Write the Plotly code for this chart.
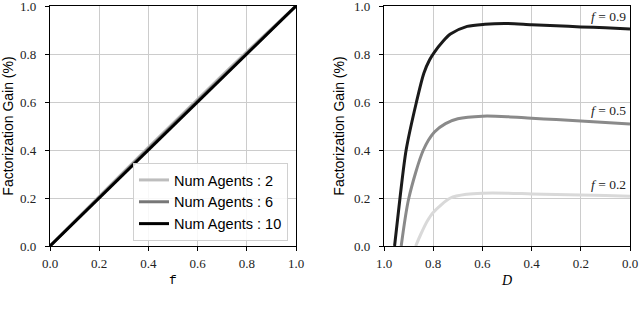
import plotly.graph_objects as go

# ---- Data ----
f_vals = [0.0, 0.1, 0.2, 0.3, 0.4, 0.5, 0.6, 0.7, 0.8, 0.9, 1.0]
gain_agents2 = [0.0, 0.104, 0.207, 0.309, 0.411, 0.512, 0.612, 0.711, 0.809, 0.905, 1.0]
gain_agents6 = [0.0, 0.102, 0.203, 0.304, 0.405, 0.505, 0.605, 0.704, 0.803, 0.902, 1.0]
gain_agents10 = [0.0, 0.1, 0.2, 0.3, 0.4, 0.5, 0.6, 0.7, 0.8, 0.9, 1.0]

D_f09 = [0.957, 0.935, 0.91, 0.868, 0.838, 0.815, 0.797, 0.76, 0.73, 0.662, 0.59, 0.5, 0.4, 0.3, 0.2, 0.1, 0.0]
gain_f09 = [0.0, 0.2, 0.4, 0.6, 0.72, 0.775, 0.805, 0.853, 0.883, 0.915, 0.924, 0.927, 0.922, 0.918, 0.913, 0.909, 0.904]

D_f05 = [0.93, 0.899, 0.84, 0.795, 0.75, 0.7, 0.6, 0.5, 0.4, 0.3, 0.2, 0.1, 0.0]
gain_f05 = [0.0, 0.2, 0.4, 0.475, 0.51, 0.53, 0.541, 0.539, 0.532, 0.527, 0.521, 0.515, 0.508]

D_f02 = [0.871, 0.85, 0.824, 0.8, 0.73, 0.662, 0.6, 0.5, 0.4, 0.3, 0.2, 0.1, 0.0]
gain_f02 = [0.0, 0.05, 0.104, 0.14, 0.2, 0.216, 0.22, 0.22, 0.217, 0.215, 0.212, 0.21, 0.207]

tick_vals = [0.0, 0.2, 0.4, 0.6, 0.8, 1.0]
tick_text = ["0.0", "0.2", "0.4", "0.6", "0.8", "1.0"]

SERIF = "Liberation Serif"
SANS = "Liberation Sans"

fig = go.Figure()

left_series = [
    ("Num Agents : 2", gain_agents2, "#bdbdbd"),
    ("Num Agents : 6", gain_agents6, "#777777"),
    ("Num Agents : 10", gain_agents10, "#000000"),
]
for name, ys, col in left_series:
    fig.add_trace(go.Scatter(x=f_vals, y=ys, mode="lines", name=name,
                             line=dict(color=col, width=3), xaxis="x", yaxis="y"))

right_series = [
    (D_f09, gain_f09, "#1a1a1a"),
    (D_f05, gain_f05, "#8a8a8a"),
    (D_f02, gain_f02, "#d9d9d9"),
]
for xs, ys, col in right_series:
    fig.add_trace(go.Scatter(x=xs, y=ys, mode="lines", showlegend=False,
                             line=dict(color=col, width=3, shape="spline", smoothing=0.8),
                             xaxis="x2", yaxis="y2", cliponaxis=True))

axis_common = dict(
    showline=True, linecolor="black", linewidth=1.2, mirror=True,
    ticks="outside", ticklen=4, tickcolor="black", tickwidth=1,
    showgrid=True, gridcolor="#cccccc", gridwidth=1, zeroline=False,
    tickvals=tick_vals, ticktext=tick_text, automargin=False,
    ticklabeloverflow="allow",
    tickfont=dict(family=SERIF, size=13, color="#222222"),
)

fig.update_layout(
    width=640, height=318,
    margin=dict(l=0, r=0, t=6, b=72),
    paper_bgcolor="white", plot_bgcolor="white",
    xaxis=dict(domain=[50/640, 296/640], range=[0, 1], anchor="y", ticklabelstandoff=1,
               title=dict(text="f", font=dict(family="Liberation Mono", size=13, color="black"), standoff=5),
               **axis_common),
    yaxis=dict(domain=[0, 1], range=[0, 1], anchor="x", ticklabelstandoff=6,
               title=dict(text="Factorization Gain (%)", font=dict(family=SANS, size=14, color="black"), standoff=6),
               **axis_common),
    xaxis2=dict(domain=[384/640, 630/640], range=[1, 0], anchor="y2", ticklabelstandoff=1,
                title=dict(text="<i>D</i>", font=dict(family=SERIF, size=14, color="black"), standoff=5),
                **axis_common),
    yaxis2=dict(domain=[0, 1], range=[0, 1], anchor="x2", ticklabelstandoff=6,
                title=dict(text="Factorization Gain (%)", font=dict(family=SANS, size=14, color="black"), standoff=6),
                **axis_common),
    legend=dict(x=288/640, y=5/240, xanchor="right", yanchor="bottom",
                bgcolor="rgba(255,255,255,0.85)", bordercolor="#d0d0d0", borderwidth=1,
                font=dict(family=SANS, size=14.5, color="black"), tracegroupgap=0),
    showlegend=True,
)

labels = [("<i>f</i> = 0.9", 0.955), ("<i>f</i> = 0.5", 0.565), ("<i>f</i> = 0.2", 0.255)]
for txt, yv in labels:
    fig.add_annotation(x=0.01, y=yv, xref="x2", yref="y2", text=txt, showarrow=False,
                       xanchor="right", yanchor="middle",
                       font=dict(family=SERIF, size=13.5, color="#222222"))

fig.add_annotation(x=171/640, y=-0.283, xref="paper", yref="paper", text="(a)", showarrow=False,
                   xanchor="center", yanchor="top", font=dict(family=SERIF, size=12, color="black"))
fig.add_annotation(x=500/640, y=-0.283, xref="paper", yref="paper", text="(b)", showarrow=False,
                   xanchor="center", yanchor="top", font=dict(family=SERIF, size=12, color="black"))

fig.write_html("out.html", config={"displayModeBar": False},
               post_script="document.body.style.margin='0';document.body.style.padding='0';")
